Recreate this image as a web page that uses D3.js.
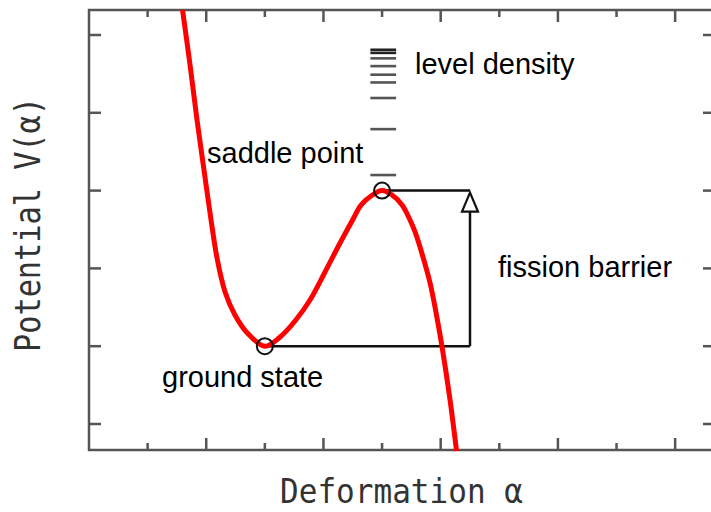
<!DOCTYPE html>
<html><head><meta charset="utf-8">
<script src="https://cdn.jsdelivr.net/npm/d3@7"></script>
<style>body{margin:0;background:#fff}svg{display:block}</style>
</head><body>
<svg id="c" width="711" height="512"></svg>
<script>
// Potential curve: [deformation, potential]
const curveX = [1.596, 1.724, 1.843, 1.962, 2.082, 2.190, 2.320, 2.490, 2.700, 3.000, 3.259, 3.515, 3.771, 4.027, 4.283, 4.488, 4.642, 4.812, 5.000, 5.171, 5.341, 5.461, 5.563, 5.683, 5.819, 5.922, 6.024, 6.160, 6.271];
const curveY = [5.321, 4.614, 3.907, 3.265, 2.622, 2.110, 1.700, 1.400, 1.170, 1.000, 1.118, 1.324, 1.594, 1.954, 2.326, 2.609, 2.815, 2.931, 3.000, 2.943, 2.815, 2.648, 2.468, 2.185, 1.812, 1.427, 0.990, 0.308, -0.347];
const groundState = [3.0, 1.0];
const saddlePoint = [5.0, 3.0];
const barrierX = 6.5;
const levelDensity = [4.81, 4.77, 4.70, 4.60, 4.49, 4.39, 4.19, 3.79, 3.20];
const levelX = [4.80, 5.24];
const xTicks = [1, 2, 3, 4, 5, 6, 7, 8, 9, 10];
const yTicks = [0, 1, 2, 3, 4, 5];
const labels = ["saddle point", "level density", "fission barrier", "ground state"];
const xTitle = "Deformation α";
const yTitle = "Potential V(α)";

(function () {
const svg = d3.select("#c");
const x = d3.scaleLinear().domain([0, 10.68]).range([89, 715]);
const y = d3.scaleLinear().domain([0, 5]).range([424, 35]);
const fTop = 10, fBottom = 450, fLeft = 89, fRight = 715;
const axisCol = "#555";

// frame
svg.append("rect").attr("x", fLeft).attr("y", fTop).attr("width", fRight - fLeft).attr("height", fBottom - fTop)
  .attr("fill", "none").attr("stroke", axisCol).attr("stroke-width", 2.5);

// x ticks top & bottom
xTicks.forEach(t => {
  const len = t % 2 === 0 ? 12 : 7;
  svg.append("line").attr("x1", x(t)).attr("x2", x(t)).attr("y1", fBottom).attr("y2", fBottom - len)
    .attr("stroke", axisCol).attr("stroke-width", 2.5);
  svg.append("line").attr("x1", x(t)).attr("x2", x(t)).attr("y1", fTop).attr("y2", fTop + len)
    .attr("stroke", axisCol).attr("stroke-width", 2.5);
});
// y ticks left & right
yTicks.forEach(t => {
  svg.append("line").attr("x1", fLeft).attr("x2", fLeft + 12).attr("y1", y(t)).attr("y2", y(t))
    .attr("stroke", axisCol).attr("stroke-width", 2.5);
  svg.append("line").attr("x1", fRight).attr("x2", fRight - 12).attr("y1", y(t)).attr("y2", y(t))
    .attr("stroke", axisCol).attr("stroke-width", 2.5);
});

// level density
levelDensity.forEach((v, i) => {
  svg.append("line").attr("x1", x(levelX[0])).attr("x2", x(levelX[1])).attr("y1", y(v)).attr("y2", y(v))
    .attr("stroke", i < 2 ? "#222" : "#555").attr("stroke-width", 2.6);
});

// barrier box
const bc = "#111";
svg.append("line").attr("x1", x(groundState[0])).attr("x2", x(barrierX)).attr("y1", y(groundState[1])).attr("y2", y(groundState[1]))
  .attr("stroke", bc).attr("stroke-width", 2.5);
svg.append("line").attr("x1", x(saddlePoint[0])).attr("x2", x(barrierX)).attr("y1", y(saddlePoint[1])).attr("y2", y(saddlePoint[1]))
  .attr("stroke", bc).attr("stroke-width", 2.5);
svg.append("line").attr("x1", x(barrierX)).attr("x2", x(barrierX)).attr("y1", y(groundState[1])).attr("y2", y(saddlePoint[1]) + 20)
  .attr("stroke", bc).attr("stroke-width", 2.5);
const ax = x(barrierX), ay = y(saddlePoint[1]) + 2;
svg.append("path").attr("d", `M${ax},${ay} L${ax - 8},${ay + 19} L${ax + 8},${ay + 19} Z`)
  .attr("fill", "#fff").attr("stroke", bc).attr("stroke-width", 2.2).attr("stroke-linejoin", "miter");

// curve
const pts = curveX.map((v, i) => [v, curveY[i]]);
svg.append("path").datum(pts)
  .attr("d", d3.line().x(d => x(d[0])).y(d => y(d[1])).curve(d3.curveCatmullRom.alpha(0.5)))
  .attr("fill", "none").attr("stroke", "#ff0000").attr("stroke-width", 5).attr("stroke-linecap", "butt");

// circles
[groundState, saddlePoint].forEach(p => {
  svg.append("circle").attr("cx", x(p[0])).attr("cy", y(p[1])).attr("r", 8)
    .attr("fill", "none").attr("stroke", "#111").attr("stroke-width", 2);
});

// labels
const lab = [[207, 163, labels[0]], [415, 74, labels[1]], [498, 277, labels[2]], [162, 387, labels[3]]];
lab.forEach(l => {
  svg.append("text").attr("x", l[0]).attr("y", l[1]).text(l[2])
    .attr("font-family", "Liberation Sans, Arial, sans-serif").attr("font-size", 29).attr("fill", "#000");
});

// axis titles
svg.append("text").attr("x", 280).attr("y", 503).text(xTitle)
  .attr("font-family", "DejaVu Sans Mono, monospace").attr("font-size", 34).attr("fill", "#333")
  .attr("textLength", 243).attr("lengthAdjust", "spacingAndGlyphs");
svg.append("text").attr("transform", "translate(40,352) rotate(-90)").text(yTitle)
  .attr("font-family", "DejaVu Sans Mono, monospace").attr("font-size", 36).attr("fill", "#333")
  .attr("textLength", 255).attr("lengthAdjust", "spacingAndGlyphs");
})();
</script>
</body></html>
